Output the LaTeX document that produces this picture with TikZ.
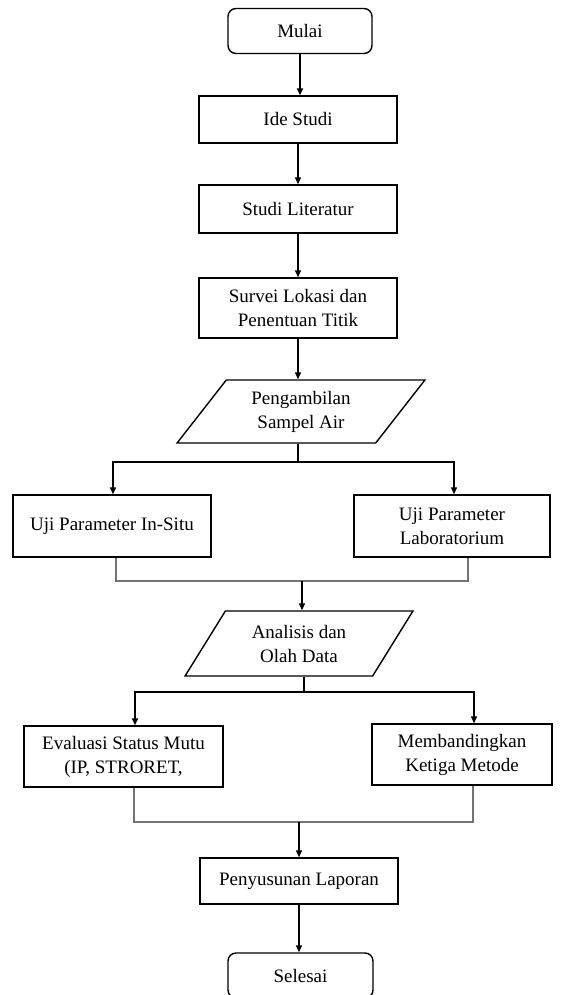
\documentclass[tikz,border=0pt]{standalone}
\usepackage{fontspec}
\setmainfont{Liberation Serif}
\usetikzlibrary{shapes.geometric,arrows.meta}
\begin{document}
\begin{tikzpicture}[x=1pt,y=-1pt,
  every node/.style={font=\fontsize{19}{24}\selectfont, align=center, inner sep=0pt},
  procbox/.style={draw, line width=1.4pt, rectangle},
  termbox/.style={draw, line width=1.4pt, rectangle, rounded corners=8pt},
  iobox/.style={draw, line width=1.4pt, trapezium, trapezium stretches=true},
  arr/.style={line width=1.5pt, -{Triangle[length=7pt,width=6pt]}},
  ln/.style={line width=1.5pt},
  mergeln/.style={line width=2.2pt, black!55}]
\useasboundingbox (0,0) rectangle (562,995);
\clip (0,0) rectangle (562,995);

\node[termbox, minimum width=144pt, minimum height=45pt] (mulai) at (300,31) {Mulai};
\node[procbox, minimum width=198pt, minimum height=47pt] (ide) at (298,119.5) {Ide Studi};
\node[procbox, minimum width=198pt, minimum height=48pt] (lit) at (298,209) {Studi Literatur};
\node[procbox, minimum width=198pt, minimum height=60pt] (survei) at (298,308) {Survei Lokasi dan\\Penentuan Titik};
\node[iobox, trapezium left angle=51.6, trapezium right angle=128.4, minimum width=248pt, minimum height=63pt] (ambil) at (301,411.5) {Pengambilan\\Sampel Air};
\node[procbox, minimum width=198pt, minimum height=62pt] (insitu) at (112,526) {Uji Parameter In-Situ};
\node[procbox, minimum width=196pt, minimum height=62pt] (lab) at (452,526) {Uji Parameter\\Laboratorium};
\node[iobox, trapezium left angle=55.3, trapezium right angle=124.7, minimum width=228pt, minimum height=65pt] (analisis) at (299,643.5) {Analisis dan\\Olah Data};
\node[procbox, minimum width=199pt, minimum height=61pt] (eval) at (123.5,756.5) {Evaluasi Status Mutu\\(IP, STRORET,};
\node[procbox, minimum width=180pt, minimum height=61pt] (banding) at (462,754.5) {Membandingkan\\Ketiga Metode};
\node[procbox, minimum width=198pt, minimum height=46pt] (susun) at (299,881) {Penyusunan Laporan};
\node[termbox, minimum width=145pt, minimum height=45pt] (selesai) at (300.5,975.5) {Selesai};

\coordinate (b1) at (298,462);
\coordinate (b1l) at (113,462);
\coordinate (b1r) at (454,462);
\coordinate (m1l) at (116,581);
\coordinate (m1r) at (468,581);
\coordinate (m1c) at (302,581);
\coordinate (b2) at (304,692);
\coordinate (b2l) at (135,692);
\coordinate (b2r) at (474,692);
\coordinate (m2l) at (134,822);
\coordinate (m2r) at (473,822);
\coordinate (m2c) at (299,822);

\draw[arr] (mulai.south) -- (mulai.south |- ide.north);
\draw[arr] (ide.south) -- (lit.north);
\draw[arr] (lit.south) -- (survei.north);
\draw[arr] (survei.south -| b1) -- (b1 |- ambil.north);

\draw[ln] (b1 |- ambil.south) -- (b1);
\draw[arr] (b1) -| (b1l) -- (b1l |- insitu.north);
\draw[arr] (b1) -| (b1r) -- (b1r |- lab.north);

\draw[mergeln] (m1l |- insitu.south) -- (m1l) -- (m1r) -- (m1r |- lab.south);
\draw[arr] (m1c) -- (m1c |- analisis.north);

\draw[ln] (b2 |- analisis.south) -- (b2);
\draw[arr] (b2) -| (b2l) -- (b2l |- eval.north);
\draw[arr] (b2) -| (b2r) -- (b2r |- banding.north);

\draw[mergeln] (m2l |- eval.south) -- (m2l) -- (m2r) -- (m2r |- banding.south);
\draw[arr] (m2c) -- (m2c |- susun.north);

\draw[arr] (susun.south) -- (susun.south |- selesai.north);
\end{tikzpicture}
\end{document}
